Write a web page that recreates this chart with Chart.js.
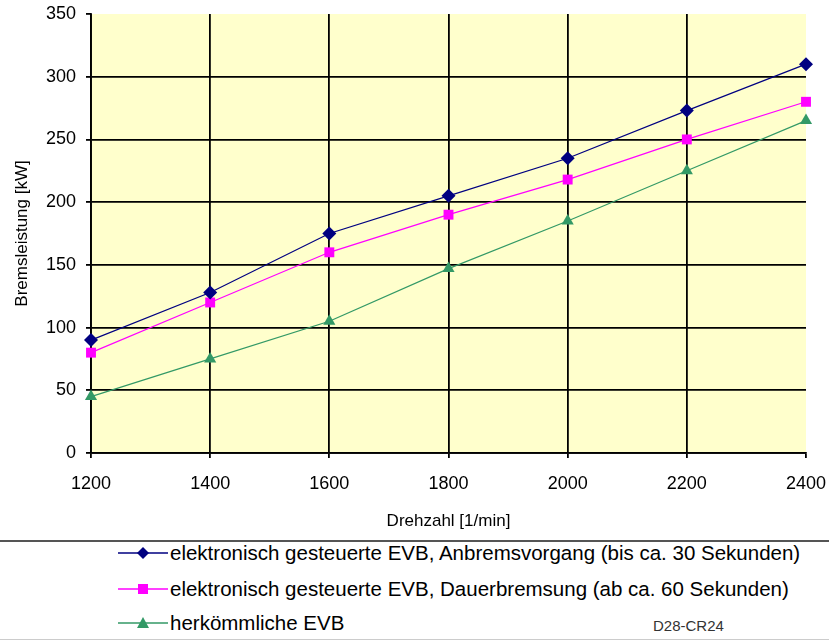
<!DOCTYPE html>
<html>
<head>
<meta charset="utf-8">
<script src="https://cdn.jsdelivr.net/npm/chart.js@4/dist/chart.umd.min.js"></script>
<style>
  body { margin: 0; background: #fff; font-family: "Liberation Sans", Arial, sans-serif; }
  #wrap { position: relative; width: 829px; height: 641px; overflow: hidden; }
  #chart { position: absolute; left: 0; top: 0; }
  .sep { position: absolute; left: 0; width: 829px; }
  .row { position: absolute; left: 118px; height: 30px; display: flex; align-items: center; font-size: 20.5px; color: #000; white-space: nowrap; }
  .row svg { margin-right: 2px; }
  #code { position: absolute; left: 653px; top: 617px; font-size: 15px; color: #333; }
</style>
</head>
<body>
<div id="wrap">
  <canvas id="chart" width="829" height="535"></canvas>
  <div class="sep" style="top:540px;height:2px;background:#555;"></div>
  <div id="legend"></div>
  <div id="code">D28-CR24</div>
  <div class="sep" style="top:639px;height:1px;background:#ccc;"></div>
</div>
<script>
// Drehzahl values and Bremsleistung series
const rpm = ['1200', '1400', '1600', '1800', '2000', '2200', '2400'];
const anbremsen = [90, 128, 175, 205, 235, 273, 310];
const dauerbremsung = [80, 120, 160, 190, 218, 250, 280];
const herkoemmlich = [45, 75, 105, 147, 185, 225, 265];

const seriesNames = [
  'elektronisch gesteuerte EVB, Anbremsvorgang (bis ca. 30 Sekunden)',
  'elektronisch gesteuerte EVB, Dauerbremsung (ab ca. 60 Sekunden)',
  'herkömmliche EVB'
];
const seriesColors = ['#000080', '#ff00ff', '#339966'];
const seriesMarkers = ['rectRot', 'rect', 'triangle'];

const fontFamily = '"Liberation Sans", Arial, sans-serif';

// yellow plot background
const plotBackground = {
  id: 'plotBackground',
  beforeDraw(chart) {
    const { ctx, chartArea } = chart;
    ctx.save();
    ctx.fillStyle = '#ffffcc';
    ctx.fillRect(chartArea.left, chartArea.top, chartArea.right - chartArea.left, chartArea.bottom - chartArea.top);
    ctx.restore();
  }
};

const datasets = [anbremsen, dauerbremsung, herkoemmlich].map((data, i) => ({
  label: seriesNames[i],
  data,
  borderColor: seriesColors[i],
  backgroundColor: seriesColors[i],
  borderWidth: 1.2,
  pointStyle: seriesMarkers[i],
  pointRadius: 7,
  pointBorderWidth: 0,
  tension: 0
}));

new Chart(document.getElementById('chart'), {
  type: 'line',
  data: { labels: rpm, datasets },
  plugins: [plotBackground],
  options: {
    responsive: false,
    animation: false,
    layout: { padding: { left: 0, right: 23, top: 14, bottom: 0 } },
    plugins: { legend: { display: false }, tooltip: { enabled: false } },
    scales: {
      x: {
        grid: {
          color: (c) => (c.index === rpm.length - 1 ? 'transparent' : '#000'),
          lineWidth: 1.8,
          tickLength: 5,
          tickColor: '#000'
        },
        border: { color: '#000', width: 1.8 },
        ticks: { color: '#000', font: { family: fontFamily, size: 18 }, padding: 15, maxRotation: 0 },
        title: {
          display: true,
          text: 'Drehzahl [1/min]',
          color: '#000',
          font: { family: fontFamily, size: 17 },
          padding: { top: 0, bottom: 3 }
        },
        afterFit: (scale) => {
          scale.height = 82;
          scale.paddingLeft = 0;
          scale.paddingRight = 0;
        }
      },
      y: {
        min: 0,
        max: 350,
        grid: {
          color: (c) => (c.tick && c.tick.value === 350 ? 'transparent' : '#000'),
          lineWidth: 1.8,
          tickLength: 5,
          tickColor: '#000'
        },
        border: { color: '#000', width: 1.8 },
        ticks: { stepSize: 50, color: '#000', font: { family: fontFamily, size: 18 }, padding: 10 },
        title: {
          display: true,
          text: 'Bremsleistung [kW]',
          color: '#000',
          font: { family: fontFamily, size: 17 },
          padding: { top: 12, bottom: 0 }
        },
        afterFit: (scale) => {
          scale.width = 91;
          scale.paddingTop = 0;
          scale.paddingBottom = 0;
        }
      }
    }
  }
});

// legend rows below the chart
function markerSvg(i) {
  const c = seriesColors[i];
  let shape;
  if (seriesMarkers[i] === 'rectRot') shape = `<polygon points="25,8 31,14 25,20 19,14" fill="${c}"/>`;
  else if (seriesMarkers[i] === 'rect') shape = `<rect x="20" y="9" width="10" height="10" fill="${c}"/>`;
  else shape = `<polygon points="25,8 31,19 19,19" fill="${c}"/>`;
  return `<svg width="50" height="28"><line x1="0" y1="14" x2="50" y2="14" stroke="${c}" stroke-width="1.5"/>${shape}</svg>`;
}

const legendTops = [538, 574, 608];
document.getElementById('legend').innerHTML = seriesNames.map((name, i) =>
  `<div class="row" style="top:${legendTops[i]}px">${markerSvg(i)}<span>${name}</span></div>`
).join('');
</script>
</body>
</html>
